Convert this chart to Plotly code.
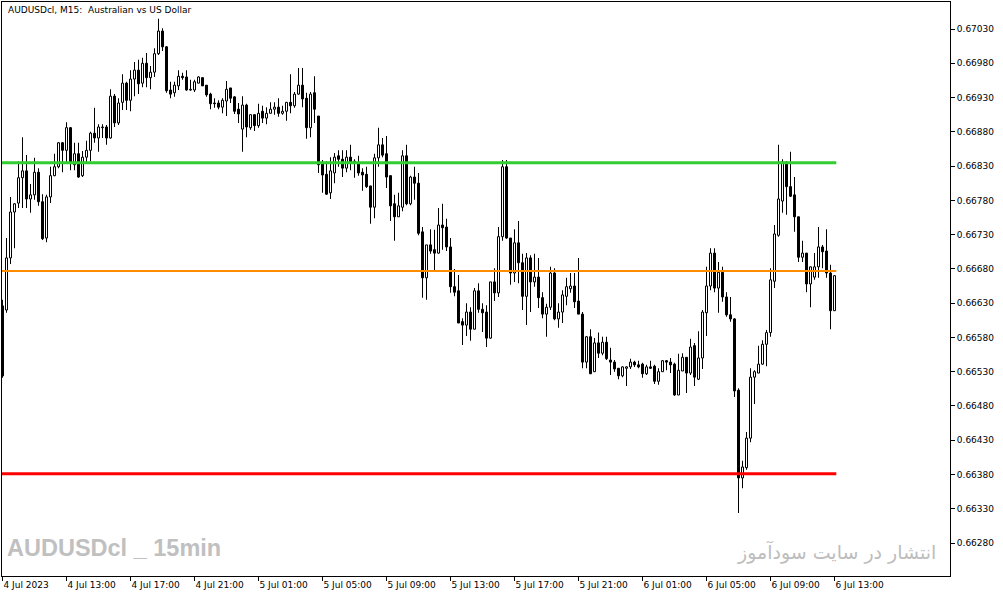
import plotly.graph_objects as go
import pandas as pd

# 15-minute bars, 4 Jul 2023 09:00 .. 6 Jul 2023 13:00
bar_times = pd.date_range("2023-07-04 09:00", periods=209, freq="15min")

open_ = [0.66626,0.66620,0.66696,0.66763,0.66776,0.66813,0.66823,0.66782,0.66788,0.66821,
0.66778,0.66725,0.66785,0.66816,0.66829,0.66864,0.66853,0.66886,0.66832,0.66848,
0.66816,0.66843,0.66853,0.66878,0.66871,0.66886,0.66887,0.66871,0.66932,0.66893,
0.66923,0.66951,0.66926,0.66957,0.66970,0.66951,0.66980,0.66959,0.66967,0.66994,
0.67027,0.67004,0.66941,0.66937,0.66947,0.66961,0.66960,0.66941,0.66941,0.66951,
0.66959,0.66948,0.66935,0.66922,0.66922,0.66916,0.66925,0.66944,0.66931,0.66913,
0.66884,0.66919,0.66886,0.66905,0.66889,0.66910,0.66900,0.66907,0.66913,0.66916,
0.66907,0.66910,0.66923,0.66918,0.66935,0.66948,0.66929,0.66886,0.66937,0.66903,
0.66833,0.66818,0.66791,0.66820,0.66845,0.66840,0.66827,0.66843,0.66835,0.66833,
0.66821,0.66818,0.66801,0.66770,0.66842,0.66861,0.66848,0.66816,0.66775,0.66756,
0.66770,0.66845,0.66775,0.66814,0.66805,0.66734,0.66667,0.66715,0.66708,0.66703,
0.66744,0.66741,0.66712,0.66654,0.66648,0.66603,0.66598,0.66617,0.66592,0.66648,
0.66621,0.66617,0.66579,0.66661,0.66645,0.66727,0.66829,0.66725,0.66674,0.66718,
0.66689,0.66640,0.66696,0.66661,0.66668,0.66638,0.66614,0.66624,0.66674,0.66607,
0.66617,0.66640,0.66651,0.66655,0.66633,0.66614,0.66544,0.66581,0.66530,0.66572,
0.66557,0.66573,0.66547,0.66544,0.66535,0.66524,0.66535,0.66537,0.66544,0.66540,
0.66541,0.66527,0.66537,0.66538,0.66516,0.66530,0.66546,0.66544,0.66541,0.66496,
0.66531,0.66551,0.66528,0.66568,0.66519,0.66550,0.66616,0.66655,0.66703,0.66652,
0.66675,0.66639,0.66613,0.66607,0.66503,0.66375,0.66390,0.66433,0.66522,0.66528,
0.66541,0.66570,0.66587,0.66662,0.66729,0.66779,0.66836,0.66800,0.66788,0.66756,
0.66697,0.66703,0.66658,0.66668,0.66683,0.66712,0.66706,0.66674,0.66619]

high = [0.66635,0.66725,0.66785,0.66776,0.66837,0.66872,0.66846,0.66804,0.66842,0.66827,
0.66789,0.66788,0.66829,0.66848,0.66865,0.66865,0.66894,0.66887,0.66864,0.66864,
0.66852,0.66867,0.66880,0.66915,0.66891,0.66891,0.66890,0.66942,0.66935,0.66929,
0.66964,0.66953,0.66970,0.66982,0.66985,0.66988,0.66995,0.66976,0.67002,0.67045,
0.67031,0.67005,0.66953,0.66953,0.66970,0.66966,0.66970,0.66956,0.66956,0.66961,
0.66959,0.66948,0.66937,0.66929,0.66926,0.66929,0.66954,0.66944,0.66932,0.66922,
0.66932,0.66921,0.66905,0.66905,0.66921,0.66918,0.66916,0.66923,0.66923,0.66929,
0.66918,0.66923,0.66964,0.66938,0.66973,0.66973,0.66937,0.66938,0.66961,0.66903,
0.66839,0.66837,0.66843,0.66849,0.66853,0.66853,0.66853,0.66861,0.66840,0.66845,
0.66827,0.66829,0.66801,0.66848,0.66886,0.66871,0.66874,0.66816,0.66788,0.66791,
0.66853,0.66861,0.66816,0.66829,0.66820,0.66741,0.66715,0.66738,0.66737,0.66769,
0.66775,0.66753,0.66725,0.66680,0.66671,0.66608,0.66630,0.66624,0.66652,0.66659,
0.66630,0.66627,0.66661,0.66681,0.66741,0.66839,0.66839,0.66725,0.66738,0.66750,
0.66702,0.66703,0.66700,0.66702,0.66696,0.66646,0.66629,0.66683,0.66681,0.66630,
0.66649,0.66667,0.66674,0.66674,0.66696,0.66617,0.66582,0.66592,0.66579,0.66587,
0.66581,0.66581,0.66565,0.66547,0.66535,0.66538,0.66538,0.66549,0.66546,0.66546,
0.66543,0.66540,0.66546,0.66540,0.66535,0.66547,0.66547,0.66550,0.66543,0.66556,
0.66557,0.66551,0.66578,0.66572,0.66589,0.66620,0.66683,0.66710,0.66710,0.66690,
0.66683,0.66646,0.66639,0.66608,0.66506,0.66400,0.66442,0.66535,0.66532,0.66568,
0.66576,0.66591,0.66681,0.66744,0.66861,0.66840,0.66837,0.66851,0.66814,0.66756,
0.66721,0.66703,0.66683,0.66703,0.66741,0.66715,0.66738,0.66686,0.66671]

low = [0.66521,0.66616,0.66687,0.66710,0.66769,0.66769,0.66769,0.66762,0.66781,0.66772,
0.66722,0.66719,0.66776,0.66815,0.66827,0.66821,0.66836,0.66824,0.66824,0.66813,
0.66814,0.66836,0.66837,0.66864,0.66851,0.66871,0.66861,0.66870,0.66887,0.66890,
0.66912,0.66912,0.66910,0.66932,0.66935,0.66945,0.66945,0.66942,0.66960,0.66992,
0.66998,0.66937,0.66929,0.66931,0.66941,0.66956,0.66940,0.66940,0.66938,0.66951,
0.66947,0.66931,0.66913,0.66915,0.66913,0.66907,0.66903,0.66922,0.66906,0.66893,
0.66851,0.66872,0.66883,0.66881,0.66886,0.66893,0.66891,0.66907,0.66905,0.66902,
0.66905,0.66896,0.66907,0.66915,0.66934,0.66916,0.66870,0.66872,0.66893,0.66820,
0.66791,0.66788,0.66782,0.66805,0.66829,0.66814,0.66821,0.66824,0.66813,0.66816,
0.66794,0.66798,0.66746,0.66754,0.66829,0.66843,0.66798,0.66750,0.66721,0.66756,
0.66764,0.66773,0.66773,0.66781,0.66729,0.66638,0.66635,0.66702,0.66678,0.66702,
0.66708,0.66706,0.66645,0.66640,0.66601,0.66569,0.66582,0.66575,0.66592,0.66616,
0.66588,0.66566,0.66578,0.66633,0.66639,0.66721,0.66724,0.66657,0.66661,0.66659,
0.66620,0.66598,0.66617,0.66654,0.66623,0.66608,0.66581,0.66620,0.66605,0.66594,
0.66601,0.66627,0.66645,0.66623,0.66614,0.66535,0.66535,0.66527,0.66530,0.66550,
0.66554,0.66547,0.66525,0.66530,0.66519,0.66522,0.66509,0.66534,0.66537,0.66535,
0.66521,0.66525,0.66534,0.66512,0.66511,0.66530,0.66532,0.66528,0.66495,0.66496,
0.66531,0.66499,0.66525,0.66509,0.66518,0.66534,0.66582,0.66649,0.66646,0.66616,
0.66632,0.66610,0.66603,0.66493,0.66324,0.66360,0.66387,0.66427,0.66483,0.66528,
0.66540,0.66538,0.66581,0.66652,0.66727,0.66762,0.66759,0.66785,0.66734,0.66690,
0.66690,0.66646,0.66624,0.66664,0.66667,0.66681,0.66667,0.66592,0.66619]

close = [0.66524,0.66696,0.66763,0.66775,0.66813,0.66823,0.66782,0.66788,0.66821,0.66778,
0.66724,0.66785,0.66816,0.66829,0.66864,0.66853,0.66886,0.66836,0.66848,0.66814,
0.66843,0.66853,0.66878,0.66871,0.66887,0.66887,0.66871,0.66932,0.66893,0.66922,
0.66951,0.66926,0.66957,0.66970,0.66950,0.66980,0.66959,0.66967,0.66994,0.67027,
0.67004,0.66940,0.66935,0.66948,0.66961,0.66959,0.66941,0.66942,0.66953,0.66960,
0.66947,0.66934,0.66921,0.66921,0.66916,0.66926,0.66942,0.66929,0.66910,0.66906,
0.66919,0.66887,0.66905,0.66889,0.66907,0.66900,0.66907,0.66913,0.66916,0.66907,
0.66910,0.66923,0.66918,0.66935,0.66948,0.66928,0.66886,0.66935,0.66913,0.66832,
0.66817,0.66789,0.66823,0.66843,0.66840,0.66827,0.66843,0.66835,0.66837,0.66820,
0.66817,0.66800,0.66770,0.66842,0.66861,0.66846,0.66814,0.66772,0.66756,0.66772,
0.66845,0.66775,0.66814,0.66805,0.66732,0.66667,0.66715,0.66706,0.66703,0.66744,
0.66740,0.66712,0.66654,0.66646,0.66601,0.66598,0.66617,0.66592,0.66648,0.66621,
0.66616,0.66579,0.66661,0.66645,0.66727,0.66829,0.66725,0.66674,0.66718,0.66689,
0.66640,0.66696,0.66661,0.66668,0.66638,0.66614,0.66624,0.66674,0.66607,0.66617,
0.66642,0.66654,0.66655,0.66632,0.66614,0.66544,0.66581,0.66527,0.66572,0.66557,
0.66573,0.66549,0.66544,0.66534,0.66524,0.66537,0.66537,0.66544,0.66540,0.66537,
0.66527,0.66537,0.66535,0.66516,0.66530,0.66546,0.66544,0.66540,0.66496,0.66532,
0.66551,0.66528,0.66566,0.66522,0.66550,0.66617,0.66655,0.66703,0.66652,0.66675,
0.66639,0.66613,0.66607,0.66502,0.66375,0.66391,0.66433,0.66522,0.66530,0.66541,
0.66570,0.66587,0.66664,0.66731,0.66782,0.66836,0.66800,0.66786,0.66756,0.66697,
0.66703,0.66658,0.66683,0.66683,0.66712,0.66705,0.66674,0.66619,0.66670]

# horizontal levels
levels = [0.66835, 0.66677, 0.66381]
level_colors = ["#32CD32", "#FF8C00", "#FF0000"]
level_widths = [3, 2, 3]

price_ticks = [0.66280, 0.66330, 0.66380, 0.66430, 0.66480, 0.66530, 0.66580, 0.66630,
               0.66680, 0.66730, 0.66780, 0.66830, 0.66880, 0.66930, 0.66980, 0.67030]
time_tick_labels = ["4 Jul 2023", "4 Jul 13:00", "4 Jul 17:00", "4 Jul 21:00",
                    "5 Jul 01:00", "5 Jul 05:00", "5 Jul 09:00", "5 Jul 13:00",
                    "5 Jul 17:00", "5 Jul 21:00", "6 Jul 01:00", "6 Jul 05:00",
                    "6 Jul 09:00", "6 Jul 13:00"]
time_tick_bars = [i * 16 for i in range(len(time_tick_labels))]

title_text = "AUDUSDcl, M15:  Australian vs US Dollar"
watermark_left = "AUDUSDcl _ 15min"
watermark_right = "انتشار در سایت سودآموز"

idx = list(range(len(open_)))
body_base = [min(o, c) for o, c in zip(open_, close)]
body_size = [abs(c - o) for o, c in zip(open_, close)]
body_fill = ["white" if c >= o else "black" for o, c in zip(open_, close)]
wick_size = [h - l for h, l in zip(high, low)]

fig = go.Figure()
# wicks (high-low)
fig.add_trace(go.Bar(x=idx, y=wick_size, base=low, width=0.25,
                     marker=dict(color="black", line=dict(width=0)),
                     hoverinfo="skip", showlegend=False))
# bodies (open-close)
fig.add_trace(go.Bar(x=idx, y=body_size, base=body_base, width=0.5,
                     marker=dict(color=body_fill, line=dict(color="black", width=1)),
                     hoverinfo="skip", showlegend=False))
last = idx[-1]
for lvl, col, w in zip(levels, level_colors, level_widths):
    fig.add_trace(go.Scatter(x=[-1, last + 0.45], y=[lvl, lvl], mode="lines",
                             line=dict(color=col, width=w), hoverinfo="skip",
                             showlegend=False))

tick_font = dict(family="DejaVu Sans", size=9, color="black")

fig.update_layout(
    width=1003, height=597,
    margin=dict(l=2, r=53, t=2, b=21),
    paper_bgcolor="white", plot_bgcolor="white",
    showlegend=False, barmode="overlay",
    xaxis=dict(
        range=[-0.125, 236.875],
        tickmode="array", tickvals=time_tick_bars, ticktext=time_tick_labels,
        ticks="outside", ticklen=4, tickcolor="black", tickwidth=1,
        ticklabelposition="outside right",
        showline=True, linecolor="black", linewidth=1, mirror=True,
        showgrid=False, zeroline=False, tickfont=tick_font, fixedrange=True,
    ),
    yaxis=dict(
        side="right",
        range=[0.662319, 0.670694],
        tickmode="array", tickvals=price_ticks,
        ticktext=[f"{v:.5f}" for v in price_ticks],
        ticks="outside", ticklen=4, tickcolor="black", tickwidth=1,
        showline=True, linecolor="black", linewidth=1, mirror=True,
        showgrid=False, zeroline=False, tickfont=tick_font, fixedrange=True,
    ),
)

fig.add_annotation(text=title_text, xref="paper", yref="paper", x=0.004, y=0.999,
                   xanchor="left", yanchor="top", showarrow=False,
                   font=dict(family="DejaVu Sans", size=9, color="black"))
fig.add_annotation(text="<b>" + watermark_left + "</b>", xref="paper", yref="paper",
                   x=0.003, y=0.022, xanchor="left", yanchor="bottom", showarrow=False,
                   font=dict(family="Liberation Sans", size=23.5, color="#C0C0C0"))
fig.add_annotation(text=watermark_right, xref="paper", yref="paper",
                   x=0.987, y=0.018, xanchor="right", yanchor="bottom", showarrow=False,
                   font=dict(family="DejaVu Sans", size=19, color="#BDBDBD"))

fig.write_html("out.html", config={"displayModeBar": False},
               post_script="document.body.style.margin='0';document.body.style.padding='0';document.body.style.overflow='hidden';")
